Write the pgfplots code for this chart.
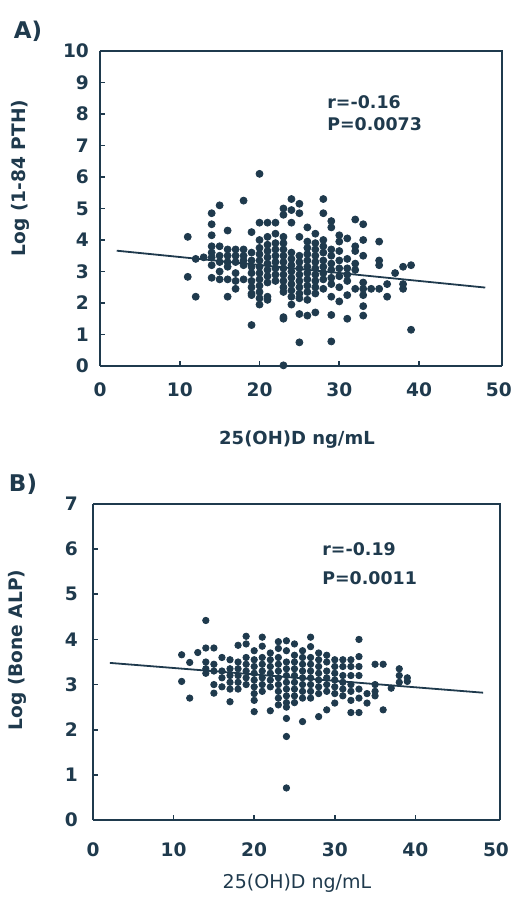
\documentclass[border=0pt]{standalone}
\usepackage{pgfplots}
\pgfplotsset{compat=1.18}
\usepackage{fontspec}
\setmainfont{DejaVu Sans}
\definecolor{ink}{HTML}{1F3A4D}
\pgfplotstableread{
x y
11 4.1
11 2.83
12 3.4
12 2.2
13 3.45
14 4.85
14 4.5
14 4.15
14 3.8
14 3.6
14 3.45
14 3.2
14 2.8
15 5.1
15 3.8
15 3.5
15 3.3
15 3.0
15 2.75
16 4.3
16 3.7
16 3.5
16 3.3
16 3.15
16 2.75
16 2.2
17 3.7
17 3.5
17 3.3
17 2.95
17 2.7
17 2.45
18 5.25
18 3.7
18 3.5
18 3.35
18 3.2
18 2.75
19 4.25
19 3.6
19 3.35
19 3.15
19 2.95
19 2.7
19 2.5
19 2.3
19 2.25
19 1.3
20 6.1
20 4.55
20 4.0
20 3.75
20 3.55
20 3.35
20 3.15
20 2.95
20 2.75
20 2.55
20 2.35
20 2.15
20 1.95
21 4.55
21 4.1
21 3.85
21 3.65
21 3.45
21 3.25
21 3.05
21 2.85
21 2.65
21 2.2
21 2.1
22 4.55
22 4.2
22 3.9
22 3.7
22 3.5
22 3.3
22 3.1
22 2.9
22 2.7
23 5.0
23 4.8
23 4.1
23 3.9
23 3.7
23 3.5
23 3.3
23 3.1
23 2.9
23 2.7
23 2.5
23 2.35
23 1.55
23 1.5
23 0.02
24 5.3
24 4.95
24 4.55
24 3.6
24 3.4
24 3.2
24 3.0
24 2.8
24 2.6
24 2.4
24 2.2
24 1.95
25 5.15
25 4.85
25 4.1
25 3.5
25 3.3
25 3.1
25 2.9
25 2.7
25 2.5
25 2.3
25 2.15
25 1.65
25 0.75
26 4.4
26 3.95
26 3.75
26 3.55
26 3.35
26 3.15
26 2.95
26 2.75
26 2.55
26 2.35
26 2.1
26 1.6
27 4.2
27 3.9
27 3.7
27 3.5
27 3.3
27 3.1
27 2.9
27 2.7
27 2.5
27 2.3
27 1.7
28 5.3
28 4.85
28 4.0
28 3.8
28 3.6
28 3.35
28 3.15
28 2.95
28 2.75
28 2.45
29 4.6
29 4.4
29 3.7
29 3.5
29 3.25
29 3.05
29 2.8
29 2.6
29 2.2
29 1.62
29 0.78
30 4.15
30 3.95
30 3.65
30 3.35
30 3.1
30 2.85
30 2.5
30 2.05
31 4.05
31 3.4
31 3.1
31 2.9
31 2.7
31 2.25
31 1.5
32 4.65
32 3.8
32 3.65
32 3.25
32 3.05
32 2.45
33 4.5
33 4.0
33 3.5
33 2.65
33 2.45
33 2.25
33 1.9
33 1.6
34 2.45
35 3.95
35 3.35
35 3.2
35 2.45
36 2.6
36 2.2
37 2.95
38 3.15
38 2.6
38 2.45
39 3.2
39 1.15
}\dataA
\pgfplotstableread{
x y
11 3.66
11 3.07
12 3.49
12 2.7
13 3.71
14 4.42
14 3.81
14 3.5
14 3.35
14 3.25
15 3.81
15 3.45
15 3.3
15 3.0
15 2.81
16 3.6
16 3.3
16 3.15
16 2.95
17 3.55
17 3.35
17 3.2
17 3.05
17 2.9
17 2.62
18 3.87
18 3.5
18 3.35
18 3.2
18 3.05
18 2.9
19 4.07
19 3.9
19 3.6
19 3.45
19 3.3
19 3.15
19 3.0
20 3.75
20 3.55
20 3.4
20 3.25
20 3.1
20 2.95
20 2.8
20 2.65
20 2.4
21 4.05
21 3.85
21 3.6
21 3.45
21 3.3
21 3.15
21 3.0
21 2.85
22 3.7
22 3.55
22 3.4
22 3.25
22 3.1
22 2.95
22 2.42
23 3.95
23 3.8
23 3.6
23 3.45
23 3.3
23 3.15
23 3.0
23 2.85
23 2.7
23 2.55
24 3.97
24 3.75
24 3.5
24 3.35
24 3.2
24 3.05
24 2.9
24 2.75
24 2.6
24 2.5
24 2.25
24 1.85
24 0.71
25 3.9
25 3.65
25 3.5
25 3.35
25 3.2
25 3.05
25 2.9
25 2.75
25 2.6
26 3.75
26 3.6
26 3.45
26 3.3
26 3.15
26 3.0
26 2.85
26 2.7
26 2.18
27 4.05
27 3.84
27 3.6
27 3.45
27 3.3
27 3.15
27 3.0
27 2.85
27 2.7
28 3.7
28 3.55
28 3.4
28 3.25
28 3.1
28 2.95
28 2.8
28 2.29
29 3.65
29 3.5
29 3.3
29 3.15
29 3.0
29 2.85
29 2.44
30 3.55
30 3.4
30 3.25
30 3.1
30 2.95
30 2.8
30 2.59
31 3.55
31 3.4
31 3.2
31 3.05
31 2.9
31 2.75
32 3.55
32 3.4
32 3.2
32 3.0
32 2.85
32 2.65
32 2.38
33 4.0
33 3.62
33 3.4
33 3.2
33 2.9
33 2.7
33 2.38
34 2.8
34 2.59
35 3.45
35 3.0
35 2.85
35 2.75
36 3.45
36 2.44
37 2.92
38 3.35
38 3.2
38 3.05
39 3.07
39 3.15
}\dataB
\pgfplotsset{
  panel/.style={
    scale only axis,
    anchor=south west,
    xmin=0,
    ymin=0,
    axis line style={ink, line width=1pt},
    axis x line*=bottom, axis y line*=left,
    tick style={ink, line width=0.8pt},
    tick align=inside,
    major tick length=2.5pt,
    xtick={10,20,30,40},
    extra x ticks={0,50},
    extra x tick style={major tick length=0pt},
    ticklabel style={font=\fontsize{9.3}{10}\selectfont\bfseries, text=ink},
    /pgf/number format/assume math mode=true,
    clip=false,
  },
}
\begin{document}
\begin{tikzpicture}
\path[use as bounding box] (0pt,0pt) rectangle (256pt,450pt);
% Panel A
\begin{axis}[panel, at={(50pt,267pt)}, width=201pt, height=157.5pt,
  xmax=50.4, ymax=10, ytick={0,1,...,10},
  xticklabel style={yshift=-5pt},
  yticklabel style={xshift=-2pt}]
\draw[ink, line width=1pt] (axis cs:0,10) -- (axis cs:50.4,10) -- (axis cs:50.4,0);
\addplot[only marks, mark=*, mark size=1.75pt, color=ink] table[x=x,y=y] {\dataA};
\addplot[ink, line width=0.9pt, no marks] coordinates {(2.1,3.66) (48.3,2.49)};
\end{axis}
% Panel B
\begin{axis}[panel, at={(46.5pt,40pt)}, width=203.5pt, height=158pt,
  xmax=50.5, ymax=7, ytick={0,1,...,7},
  xticklabel style={yshift=-8pt},
  yticklabel style={xshift=-4pt}]
\draw[ink, line width=1pt] (axis cs:0,7) -- (axis cs:50.5,7) -- (axis cs:50.5,0);
\addplot[only marks, mark=*, mark size=1.6pt, color=ink] table[x=x,y=y] {\dataB};
\addplot[ink, line width=0.9pt, no marks] coordinates {(2.1,3.48) (48.4,2.82)};
\end{axis}
% labels
\node[text=ink, font=\fontsize{11.5}{12}\selectfont\bfseries] at (14pt,434.5pt) {A)};
\node[text=ink, font=\fontsize{11.5}{12}\selectfont\bfseries] at (11.5pt,208pt) {B)};
\node[text=ink, font=\fontsize{9.3}{10}\selectfont\bfseries, rotate=90] at (10pt,361pt) {Log (1-84 PTH)};
\node[text=ink, font=\fontsize{9.3}{10}\selectfont\bfseries, rotate=90] at (8.5pt,125pt) {Log (Bone ALP)};
\node[text=ink, font=\fontsize{9}{10}\selectfont\bfseries] at (148.5pt,230pt) {25(OH)D ng/mL};
\node[text=ink, font=\fontsize{9.5}{10}\selectfont] at (148.5pt,8.5pt) {25(OH)D ng/mL};
\node[text=ink, font=\fontsize{8.7}{10}\selectfont\bfseries, anchor=west, inner sep=0pt] at (163.5pt,399pt) {r=-0.16};
\node[text=ink, font=\fontsize{8.7}{10}\selectfont\bfseries, anchor=west, inner sep=0pt] at (163.5pt,388pt) {P=0.0073};
\node[text=ink, font=\fontsize{8.7}{10}\selectfont\bfseries, anchor=west, inner sep=0pt] at (161pt,175.5pt) {r=-0.19};
\node[text=ink, font=\fontsize{8.7}{10}\selectfont\bfseries, anchor=west, inner sep=0pt] at (161pt,161pt) {P=0.0011};
\end{tikzpicture}
\end{document}
